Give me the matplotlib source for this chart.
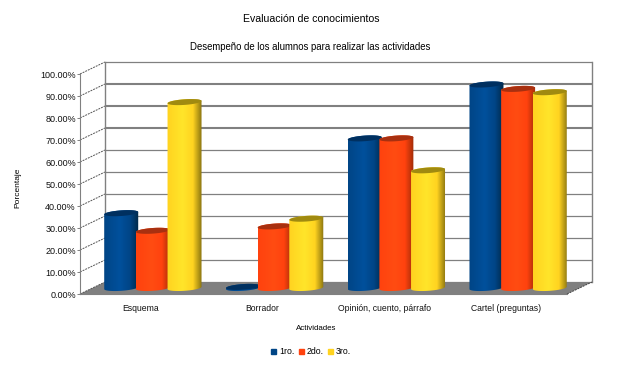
import numpy as np
import matplotlib
matplotlib.use('Agg')
import matplotlib.pyplot as plt
from matplotlib.colors import LinearSegmentedColormap
from matplotlib.patches import Patch, Polygon
from matplotlib.path import Path
from matplotlib.transforms import IdentityTransform, ScaledTranslation

categories = ['Esquema', 'Borrador', 'Opinión, cuento, párrafo', 'Cartel (preguntas)']
primero = [34, 0.5, 68, 92.5]
segundo = [26, 28, 68, 90.5]
tercero = [84.5, 31.5, 53.5, 89]
series_names = ['1ro.', '2do.', '3ro.']
y_ticks = [0, 10, 20, 30, 40, 50, 60, 70, 80, 90, 100]

GRAY = '#808080'
series_colors = ['#004586', '#ff420e', '#ffd320']
bright_colors = ['#00509c', '#ff4c12', '#ffe52a']
edge_colors = ['#002848', '#a02c08', '#8a7410']
cap_colors = ['#003060', '#a83010', '#a08a10']

plt.rcParams['font.family'] = ['Liberation Sans', 'DejaVu Sans']
plt.rcParams['font.size'] = 6.5

W, H = 620, 366
DEPTH_X, DEPTH_Y = 25, 12  # pixels from the front plane to the back wall
BAR_WIDTH = 0.26


def cylinder_outline(trans, x, value):
    # outline and top cap of one cylinder, in pixels
    left = trans.transform((x - BAR_WIDTH / 2, 0))
    right = trans.transform((x + BAR_WIDTH / 2, value))
    cx = (left[0] + right[0]) / 2
    a = (right[0] - left[0]) / 2 + 1.2
    b = 2.8
    tilt = np.radians(4)

    def arc(t, cy):
        px = a * np.cos(t)
        py = b * np.sin(t)
        return np.column_stack([cx + px * np.cos(tilt) - py * np.sin(tilt),
                                cy + px * np.sin(tilt) + py * np.cos(tilt)])

    lower = arc(np.linspace(np.pi, 2 * np.pi, 40), left[1])
    upper = arc(np.linspace(0, np.pi, 40), right[1])
    cap = arc(np.linspace(0, 2 * np.pi, 60), right[1])
    return np.vstack([lower, upper]), cap


def main():
    fig = plt.figure(figsize=(W / 100, H / 100), dpi=100, facecolor='white')
    ax = fig.add_axes([80 / W, 1 - 294 / H, (567 - 80) / W, 220 / H])
    ax.set_xlim(-0.5, 3.5)
    ax.set_ylim(0, 100)
    ax.patch.set_visible(False)
    for spine in ax.spines.values():
        spine.set_visible(False)
    ax.spines['left'].set_visible(True)
    ax.spines['left'].set_color(GRAY)
    ax.spines['left'].set_linewidth(0.8)

    wall = ax.transData + ScaledTranslation(DEPTH_X / 100, DEPTH_Y / 100, fig.dpi_scale_trans)
    mid = ax.transData + ScaledTranslation(12 / 100, 6 / 100, fig.dpi_scale_trans)

    # floor
    front_l, front_r = ax.transData.transform([(-0.5, 0), (3.5, 0)])
    back_l, back_r = wall.transform([(-0.5, 0), (3.5, 0)])
    ax.add_patch(Polygon([front_l, front_r, back_r, back_l], closed=True, facecolor=GRAY,
                         edgecolor='none', transform=IdentityTransform(), clip_on=False, zorder=1))

    # back wall and the diagonals on the side wall
    for tick in y_ticks:
        width = 1.5 if tick in (70, 80, 90) else 0.9
        ax.plot([-0.5, 3.5], [tick, tick], color=GRAY, lw=width, transform=wall,
                clip_on=False, zorder=1, solid_capstyle='butt')
        p0 = ax.transData.transform((-0.5, tick))
        p1 = wall.transform((-0.5, tick))
        ax.plot([p0[0], p1[0]], [p0[1], p1[1]], color='#555555', lw=0.7, ls=(0, (2, 1)),
                transform=IdentityTransform(), clip_on=False, zorder=1)
    for x_end in (-0.5, 3.5):
        ax.plot([x_end, x_end], [0, 100], color=GRAY, lw=1.0, transform=wall, clip_on=False, zorder=1)
    ax.plot([front_r[0], back_r[0]], [front_r[1], back_r[1]], color='#444444', lw=0.7, ls=(0, (2, 1)),
            transform=IdentityTransform(), clip_on=False, zorder=1)
    ax.plot([front_l[0], front_r[0]], [front_l[1], front_r[1]], color=GRAY, lw=0.8,
            transform=IdentityTransform(), clip_on=False, zorder=1)

    # cylinders
    order = 3
    for s, values in enumerate([primero, segundo, tercero]):
        cmap = LinearSegmentedColormap.from_list(
            f'cyl{s}', [(0, series_colors[s]), (0.45, bright_colors[s]),
                        (0.75, series_colors[s]), (1, edge_colors[s])])
        for c, value in enumerate(values):
            x = c + (s - 1) * BAR_WIDTH
            outline, cap = cylinder_outline(mid, x, value)
            gradient = np.linspace(0, 1, 64).reshape(1, -1)
            image = ax.imshow(gradient, cmap=cmap, aspect='auto', zorder=order,
                              extent=(x - BAR_WIDTH / 2 - 0.01, x + BAR_WIDTH / 2 + 0.01, -3, value + 3),
                              transform=mid)
            image.set_clip_path(Path(np.vstack([outline, outline[:1]]), closed=True), IdentityTransform())
            ax.add_patch(Polygon(cap, closed=True, facecolor=cap_colors[s], edgecolor='none',
                                 transform=IdentityTransform(), clip_on=False, zorder=order + 0.5))
        order += 1
    ax.set_xlim(-0.5, 3.5)
    ax.set_ylim(0, 100)

    ax.set_xticks(range(len(categories)), categories)
    ax.set_yticks(y_ticks, [f'{tick:.2f}%' for tick in y_ticks])
    ax.tick_params(axis='x', length=0, pad=7.5, labelsize=6.2, colors='#111111')
    ax.tick_params(axis='y', length=2.5, width=0.7, color=GRAY, pad=0.5, labelsize=6.5, labelcolor='#111111')

    fig.text(311 / W, 1 - 19 / H, 'Evaluación de conocimientos', ha='center', va='center', fontsize=7.6)
    fig.text(310 / W, 1 - 47 / H, 'Desempeño de los alumnos para realizar las actividades',
             ha='center', va='center', fontsize=6.9)
    fig.text(316 / W, 1 - 328 / H, 'Actividades', ha='center', va='center', fontsize=5.7)
    fig.text(18 / W, 1 - 188 / H, 'Porcentaje', ha='center', va='center', rotation=90, fontsize=6.0)

    handles = [Patch(color=color, label=name) for color, name in zip(series_colors, series_names)]
    fig.legend(handles=handles, loc='center', bbox_to_anchor=(311 / W, 1 - 352 / H), ncol=3, frameon=False,
               fontsize=6.3, handlelength=0.55, handleheight=0.55, handletextpad=0.3, columnspacing=0.55)

    fig.savefig('out.png', dpi=100, facecolor='white')


if __name__ == '__main__':
    main()
